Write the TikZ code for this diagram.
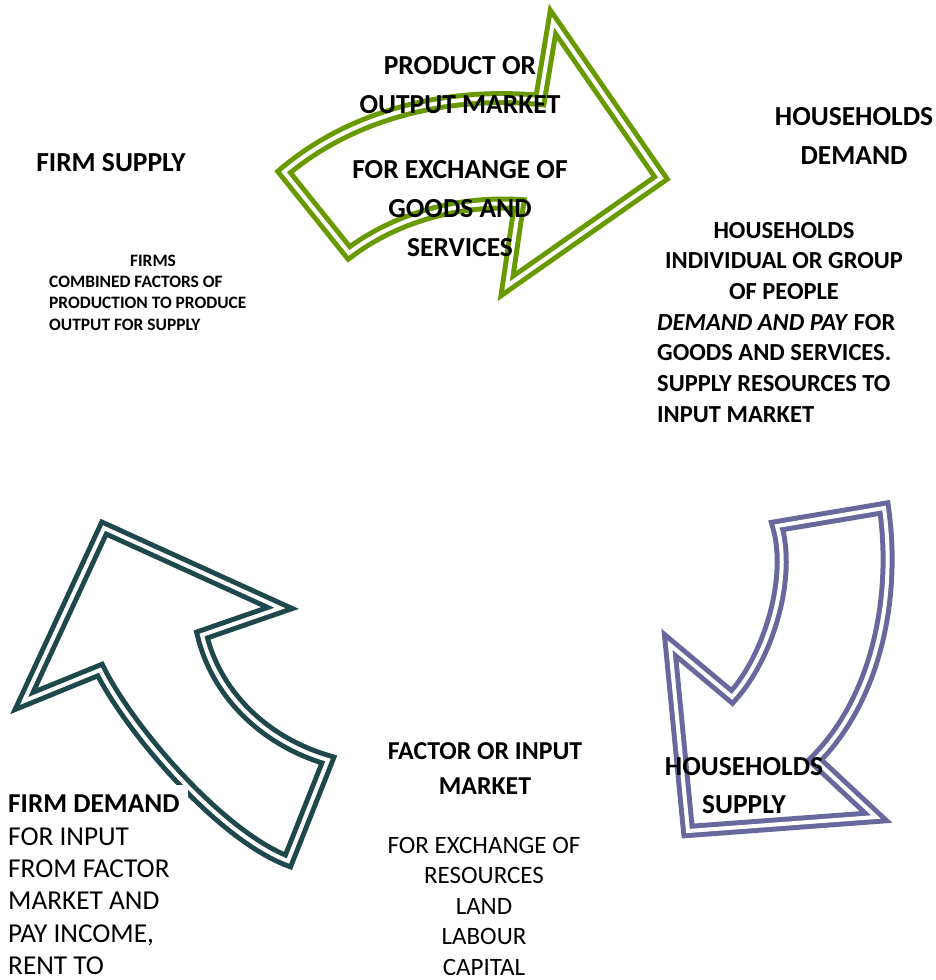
\documentclass[tikz,border=0pt]{standalone}
\usepackage{fontspec}
\setmainfont{Carlito}
\usepackage{tikz}

\definecolor{flowgreen}{RGB}{104,154,0}
\definecolor{flowteal}{RGB}{30,72,76}
\definecolor{flowpurple}{RGB}{104,104,156}

\tikzset{
  flowarrow/.style={double=white, line width=5pt, double distance=4pt, line join=miter},
  headtxt/.style={font=\fontsize{27.5}{39}\selectfont\bfseries, align=center, inner sep=0pt, anchor=north},
  bodytxt/.style={font=\fontsize{24.5}{30.7}\selectfont\bfseries, inner sep=0pt},
  smalltxt/.style={font=\fontsize{17.4}{21.3}\selectfont\bfseries, inner sep=0pt}
}

\begin{document}
\begin{tikzpicture}[x=1pt, y=-1pt]

            \useasboundingbox (0,0) rectangle (936,980);

            % Arrows

            \draw[flowarrow, flowgreen] (284,172) -- (349,253)
                .. controls (390,222) and (450,200) .. (519,204) -- (507,286)
                -- (661,178) -- (553,22) -- (540,100)
                .. controls (460,92) and (360,108) .. cycle;
            \draw[flowarrow, flowteal] (104,528) -- (280,608) -- (202,635)
                .. controls (215,690) and (260,740) .. (328,760) -- (288,861)
                .. controls (220,835) and (130,730) .. (100,670) -- (24,701) -- cycle;
            \draw[flowarrow, flowpurple] (777,526) -- (884,508)
                .. controls (897,600) and (875,700) .. (815,760) -- (876,817)
                -- (688,831) -- (670,645) -- (732,697)
                .. controls (770,655) and (792,575) .. cycle;

            % Nodes

            \node[headtxt] (product) at (460,56) {PRODUCT OR\\OUTPUT MARKET};
            \node[headtxt] (goods) at (460,160) {FOR EXCHANGE OF\\GOODS AND\\SERVICES};
            \node[headtxt] (firmsupply) at (111,153) {FIRM SUPPLY};
            \node[headtxt] (hhdemand) at (854,107) {HOUSEHOLDS\\DEMAND};
            \node[bodytxt, anchor=north, align=center] (hhhead) at (784,222) {HOUSEHOLDS\\INDIVIDUAL OR GROUP\\OF PEOPLE};
            \node[bodytxt, anchor=north west, align=left] (hhbody) at (657,314) {\textit{DEMAND AND PAY} FOR\\GOODS AND SERVICES.\\SUPPLY RESOURCES TO\\INPUT MARKET};
            \node[smalltxt, anchor=north] (firms) at (153,255) {FIRMS};
            \node[smalltxt, anchor=north west, align=left] (firmsbody) at (49,276) {COMBINED FACTORS OF\\PRODUCTION TO PRODUCE\\OUTPUT FOR SUPPLY};
            \node[headtxt, font=\fontsize{25.8}{35}\selectfont\bfseries] (factor) at (485,742) {FACTOR OR INPUT\\MARKET};
            \node[headtxt, font=\fontsize{25}{30.5}\selectfont] (resources) at (484,837) {FOR EXCHANGE OF\\RESOURCES\\LAND\\LABOUR\\CAPITAL};
            \node[headtxt, font=\fontsize{27.5}{38}\selectfont\bfseries] (hhsupply) at (744,757) {HOUSEHOLDS\\SUPPLY};
            \node[anchor=north west, align=left, fill=white, inner xsep=8pt, inner ysep=10pt,
                  font=\fontsize{27.3}{32.3}\selectfont] (firmdemand) at (0,785)
                  {\textbf{FIRM DEMAND}\\FOR INPUT\\FROM FACTOR\\MARKET AND\\PAY INCOME,\\RENT TO};

\end{tikzpicture}
\end{document}
